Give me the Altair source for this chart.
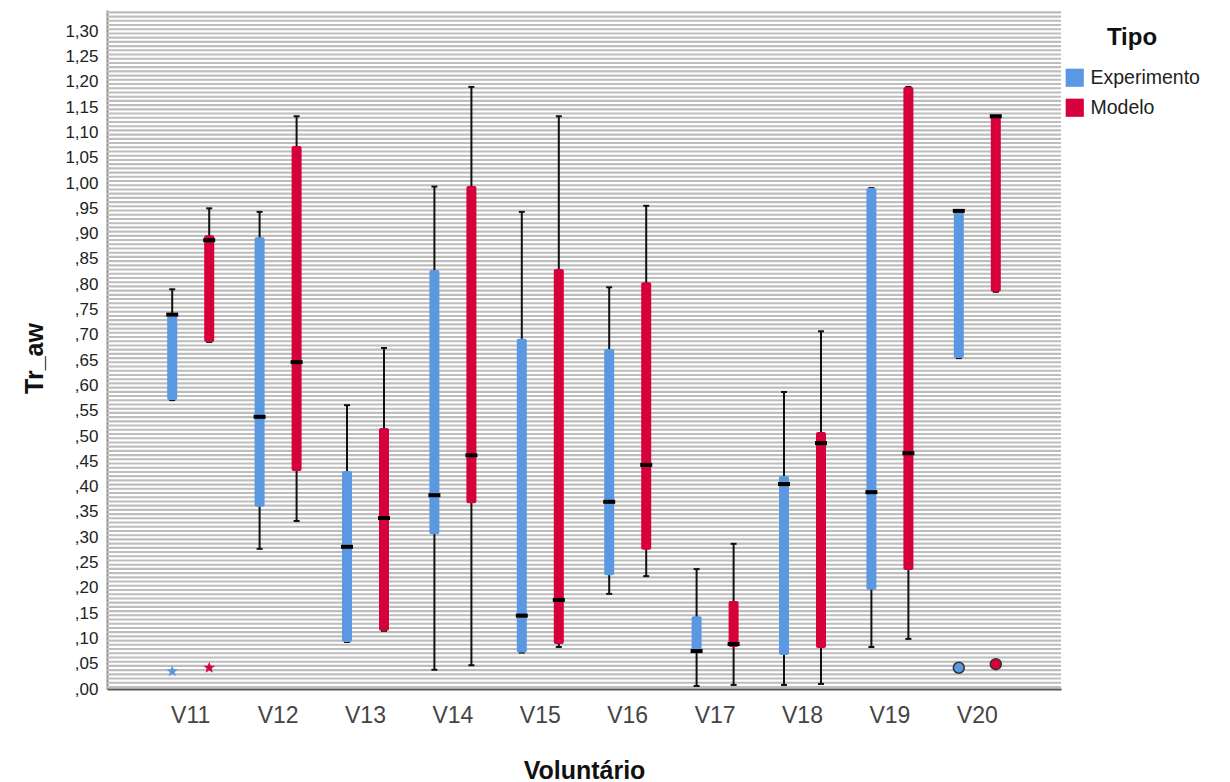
import altair as alt
import numpy as np
import pandas as pd

# Box-plot summaries of Tr_aw per volunteer, read per group
voluntarios = ["V11", "V12", "V13", "V14", "V15", "V16", "V17", "V18", "V19", "V20"]
tipos = ["Experimento", "Modelo"]

exp_min = [0.571, 0.277, 0.093, 0.038, 0.072, 0.188, 0.006, 0.008, 0.083, 0.654]
exp_q1 = [0.571, 0.360, 0.093, 0.306, 0.072, 0.225, 0.071, 0.067, 0.196, 0.654]
exp_med = [0.740, 0.538, 0.281, 0.383, 0.145, 0.370, 0.075, 0.405, 0.389, 0.945]
exp_q3 = [0.743, 0.893, 0.431, 0.828, 0.692, 0.672, 0.144, 0.421, 0.990, 0.945]
exp_max = [0.790, 0.943, 0.561, 0.993, 0.943, 0.794, 0.237, 0.587, 0.990, 0.945]

mod_min = [0.686, 0.332, 0.115, 0.047, 0.083, 0.223, 0.008, 0.010, 0.099, 0.785]
mod_q1 = [0.686, 0.431, 0.115, 0.367, 0.089, 0.275, 0.083, 0.081, 0.235, 0.785]
mod_med = [0.887, 0.646, 0.338, 0.462, 0.176, 0.443, 0.089, 0.486, 0.466, 1.132]
mod_q3 = [0.897, 1.073, 0.516, 0.994, 0.830, 0.804, 0.174, 0.508, 1.190, 1.132]
mod_max = [0.950, 1.132, 0.674, 1.190, 1.132, 0.955, 0.287, 0.707, 1.190, 1.132]

# Points outside the whiskers: extremes (stars) and outliers (circles)
ext_vol = ["V11", "V11"]
ext_tipo = ["Experimento", "Modelo"]
ext_val = [0.035, 0.042]
out_vol = ["V20", "V20"]
out_tipo = ["Experimento", "Modelo"]
out_val = [0.042, 0.049]

colors = ["#5a98e2", "#d6003b"]
FONT = "Liberation Sans"

rows = []
for tipo, series in zip(tipos, [(exp_min, exp_q1, exp_med, exp_q3, exp_max),
                                (mod_min, mod_q1, mod_med, mod_q3, mod_max)]):
    for i, v in enumerate(voluntarios):
        rows.append({"Voluntario": v, "Tipo": tipo, "lo": series[0][i], "q1": series[1][i],
                     "med": series[2][i], "q3": series[3][i], "hi": series[4][i]})
boxes = pd.DataFrame(rows)
extremes = pd.DataFrame({"Voluntario": ext_vol, "Tipo": ext_tipo, "val": ext_val})
outliers = pd.DataFrame({"Voluntario": out_vol, "Tipo": out_tipo, "val": out_val})

# hatched plot background: thin horizontal rules
stripe_step = 0.05 / 6
stripes = pd.DataFrame({"s": np.arange(0.004, 1.342, stripe_step)})


def star_path(points=5, inner=0.42):
    pts = []
    for k in range(points * 2):
        r = 1.0 if k % 2 == 0 else inner
        a = -np.pi / 2 + k * np.pi / points
        pts.append(f"{r * np.cos(a):.3f},{r * np.sin(a):.3f}")
    return "M" + " L".join(pts) + " Z"


y_scale = alt.Scale(domain=[0, 1.342], nice=False, zero=False)
y_axis = alt.Axis(
    values=[round(0.05 * i, 2) for i in range(27)],
    labelExpr="datum.value < 0.999 ? replace(format(datum.value, '.2f'), '0.', ',') : replace(format(datum.value, '.2f'), '.', ',')",
    ticks=False, grid=False, domainColor="#8c8c8c", domainWidth=2,
    labelFontSize=17, labelColor="#222222", labelPadding=9,
    title="Tr_aw", titleFontSize=25, titleFontWeight="bold", titleColor="#111111",
    titleX=-60, titleY=348, titleAngle=270,
)


def y_enc(field):
    return alt.Y(field, scale=y_scale, axis=y_axis, title="Tr_aw")


x_enc = alt.X(
    "Voluntario:N", sort=voluntarios,
    scale=alt.Scale(paddingInner=0, paddingOuter=0.4577),
    axis=alt.Axis(
        labelAngle=0, ticks=False, grid=False, domainColor="#555555", domainWidth=2,
        labelFontSize=23, labelColor="#444444", labelPadding=15,
        title="Voluntário", titleFontSize=25, titleFontWeight="bold", titleColor="#111111",
        titleY=69,
    ),
)
xo_enc = alt.XOffset("Tipo:N", sort=tipos, scale=alt.Scale(paddingInner=0, paddingOuter=0.181))
color_nolegend = alt.Color("Tipo:N", sort=tipos, scale=alt.Scale(domain=tipos, range=colors), legend=None)

stripe_layer = alt.Chart(stripes).mark_rule(color="#bdbdbd", strokeWidth=2.1).encode(
    y=y_enc("s:Q")
)

base = alt.Chart(boxes).encode(x=x_enc, xOffset=xo_enc)

whiskers = base.mark_rule(color="#111111", strokeWidth=2, opacity=1).encode(
    y=y_enc("lo:Q"), y2="hi:Q"
)
cap_lo = base.mark_tick(color="#111111", size=6, thickness=2, opacity=1).encode(y=y_enc("lo:Q"))
cap_hi = base.mark_tick(color="#111111", size=6, thickness=2, opacity=1).encode(y=y_enc("hi:Q"))
box = base.mark_bar(size=10, cornerRadius=2, opacity=1).encode(
    y=y_enc("q1:Q"), y2="q3:Q",
    color=alt.Color(
        "Tipo:N", sort=tipos, scale=alt.Scale(domain=tipos, range=colors),
        legend=alt.Legend(
            title="Tipo", orient="none", legendX=958, legendY=16,
            symbolType="square", symbolSize=330, symbolStrokeWidth=0, symbolOpacity=1,
            labelFontSize=19.5, labelColor="#222222", labelOffset=6,
            titleFontSize=24, titleFontWeight="bold", titleColor="#111111",
            titleAnchor="middle", titlePadding=18, rowPadding=9,
        ),
    ),
)
median = base.mark_tick(color="#000000", size=12, thickness=4, opacity=1).encode(y=y_enc("med:Q"))

star_layer = alt.Chart(extremes).mark_point(
    shape=star_path(), filled=True, size=150, opacity=1
).encode(x=x_enc, xOffset=xo_enc, y=y_enc("val:Q"), color=color_nolegend)

circle_layer = alt.Chart(outliers).mark_point(
    shape="circle", filled=True, size=120, opacity=1, stroke="#333333", strokeWidth=1.5
).encode(x=x_enc, xOffset=xo_enc, y=y_enc("val:Q"), color=color_nolegend)

chart = alt.layer(
    stripe_layer, whiskers, cap_lo, cap_hi, box, median, star_layer, circle_layer
).properties(
    width=954, height=679,
    autosize=alt.AutoSizeParams(type="none"),
    padding={"left": 107, "top": 10, "right": 169, "bottom": 93},
    background="white",
).configure(font=FONT).configure_view(stroke=None)

chart.save("out.html", embed_options={"renderer": "svg", "actions": False})
